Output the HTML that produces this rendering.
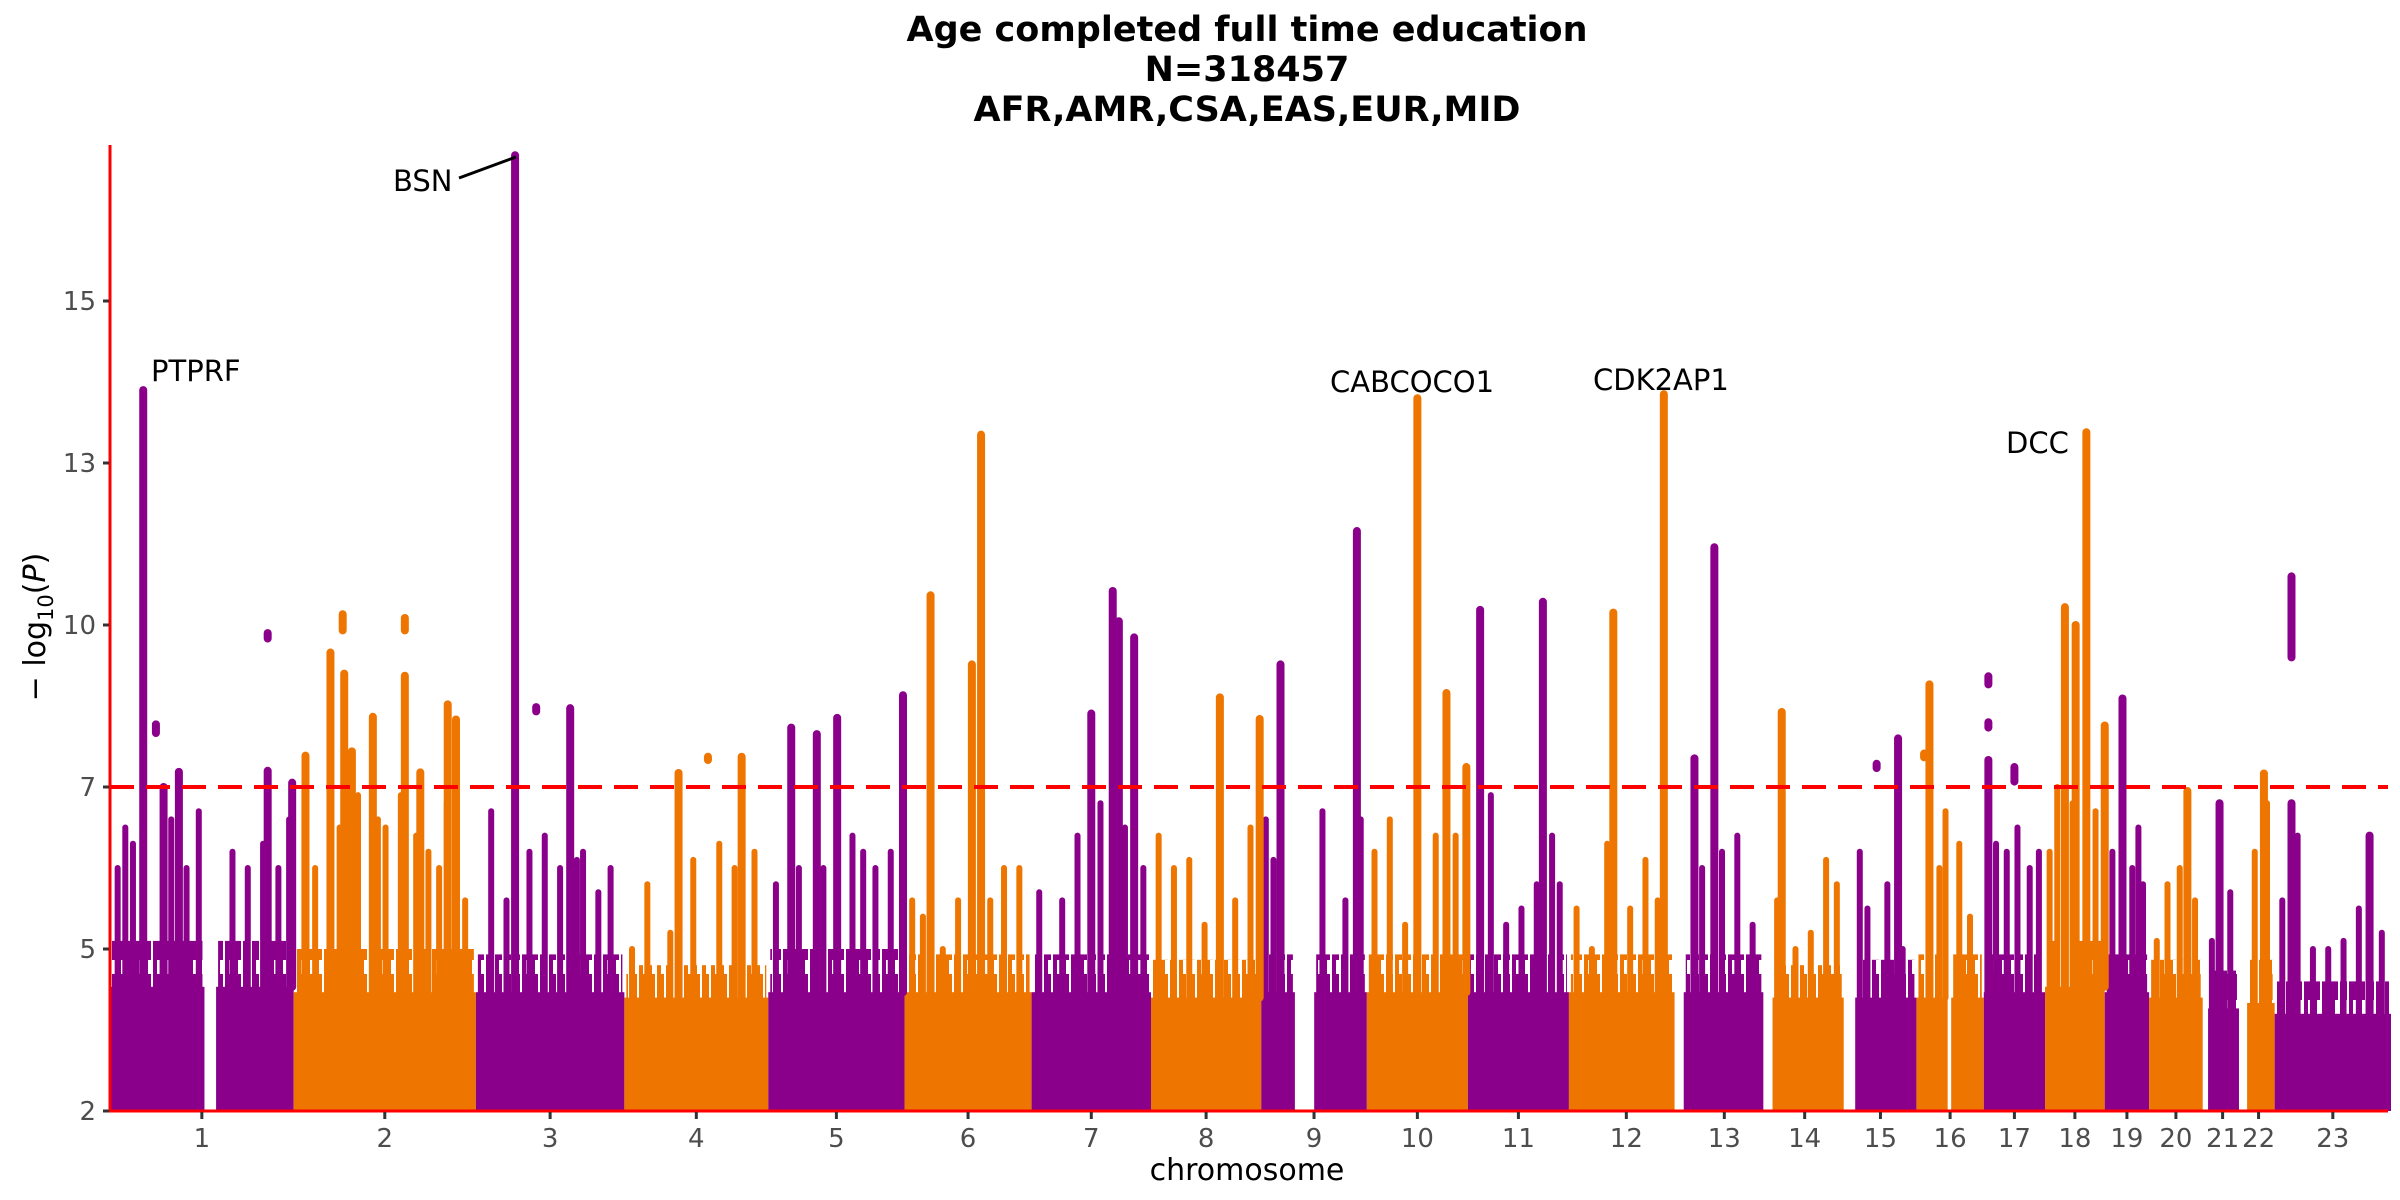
<!DOCTYPE html>
<html><head><meta charset="utf-8"><style>
html,body{margin:0;padding:0;background:#fff;}
svg{display:block;font-family:"DejaVu Sans","Liberation Sans",sans-serif;}
</style></head><body>
<svg id="chart" width="2400" height="1200" viewBox="0 0 2400 1200">
<defs>
<pattern id="texP" width="9" height="40" patternUnits="userSpaceOnUse"><rect x="0" y="0" width="4" height="40" fill="#8B008B"/><rect x="4" y="14" width="3" height="26" fill="#8B008B"/></pattern>
<pattern id="texO" width="9" height="40" patternUnits="userSpaceOnUse"><rect x="0" y="0" width="4" height="40" fill="#EE7600"/><rect x="4" y="14" width="3" height="26" fill="#EE7600"/></pattern>
</defs>
<g font-weight="bold" font-size="35" text-anchor="middle" fill="#000">
<text x="1247" y="41">Age completed full time education</text>
<text x="1247" y="81">N=318457</text>
<text x="1247" y="121">AFR,AMR,CSA,EAS,EUR,MID</text>
</g>
<g id="bands"></g>
<g id="minor"></g>
<g id="major"></g>
<g id="axes"></g>
<text x="1247" y="1180" font-size="30" text-anchor="middle" fill="#000">chromosome</text>
<text transform="translate(45,627) rotate(-90)" font-size="30" text-anchor="middle" fill="#000">− log<tspan font-size="21" dy="8">10</tspan><tspan dy="-8">(</tspan><tspan font-style="italic">P</tspan>)</text>
<g font-size="29" fill="#000">
<text x="151" y="381">PTPRF</text>
<text x="393" y="191">BSN</text>
<line x1="459" y1="178" x2="516" y2="157" stroke="#000" stroke-width="3"/>
<text x="1330" y="392">CABCOCO1</text>
<text x="1593" y="390">CDK2AP1</text>
<text x="2006" y="453">DCC</text>
</g>
</svg>
<script>
const chrNames=["1","2","3","4","5","6","7","8","9","10","11","12","13","14","15","16","17","18","19","20","21","22","23"];
const chrLengths=[120,119,97,94,89,83,78,72,69,66,66,75,53,52,47,44,40,39,29,35,26,21,76];
const bandStart=[0,0,0,0,0,0,0,0,0,0,0,0,0,5,7,0,0,0,0,0,3.5,3,0];
const bandEnd=[120,119,97,94,89,83,78,72,69,66,66,69,52,51.5,47,44,40,39,29,35,23.7,21,76];
const bandTop=[4.3,4.2,4.2,4.1,4.2,4.2,4.2,4.1,4.2,4.2,4.2,4.2,4.2,4.1,4.1,4.1,4.2,4.3,4.2,4.1,3.9,4.0,3.8];
const fringeTop=[5.1,5.0,4.9,4.7,5.0,4.9,4.9,4.8,4.9,4.9,4.9,4.9,4.9,4.7,4.8,4.9,4.9,5.1,4.9,4.8,4.6,4.8,4.4];
const gaps=[[1,61.7,69.3],[9,22,34.6],[16,20.4,22.7]];
const yTicks=[2,5,7,10,13,15];
const suggestiveLine=7;
const majorLoci=[
[1,21.7,13.9],[1,30,8.16,8.0],[1,35,7.0],[1,45,7.28],[1,103,9.85,9.75],[1,103,7.3],[1,119,7.08],
[2,7.7,7.58],[2,24,9.49],[2,32,10.2,9.9],[2,33,9.1],[2,38,7.66],[2,51.7,8.3],[2,72.6,10.13,9.9],[2,72.6,9.06],[2,82.7,7.27],[2,100.6,8.53],[2,106,8.25],
[3,25.6,16.8],[3,39.4,8.48,8.4],[3,61.6,8.46],
[4,35.4,7.26],[4,54.6,7.56,7.5],[4,76.6,7.56],
[5,15,8.1],[5,31.7,7.98],[5,45,8.28],[5,88,8.7],
[6,17,10.55],[6,44,9.27],[6,50,13.35],
[7,39,8.36],[7,53,10.63],[7,57,10.07],[7,67,9.77],
[8,45,8.66],[8,71,8.26],
[9,12.6,9.27],[9,62.5,11.74],
[10,33,13.8],[10,52,8.74],[10,65,7.37],
[11,8,10.28],[11,49,10.43],
[12,29,10.23],[12,62,13.85],
[13,7,7.53],[13,20,11.44],
[14,11,8.39],
[15,21,7.43,7.35],[15,35,7.9],
[16,5,7.62,7.55],[16,8.5,8.9],
[17,3,9.05,8.9],[17,3,8.2,8.1],[17,3,7.5],[17,20,7.37,7.1],
[18,13,10.33],[18,20,10.0],[18,27,13.38],[18,39,8.14],
[19,11.6,8.64],
[20,25,6.95],
[21,11,6.8],
[22,14,7.25],
[23,11,10.9,9.4],[23,11,6.8],[23,62,6.4]
];
const minorLoci=[
[1,5,6.0],[1,10,6.5],[1,15,6.3],[1,40,6.6],[1,50,6.0],[1,58,6.7],[1,80,6.2],[1,90,6.0],[1,100,6.3],[1,110,6.0],[1,117,6.6],
[2,7,7.0],[2,14,6.0],[2,30,6.5],[2,42,6.9],[2,55,6.6],[2,60,6.5],[2,70,6.9],[2,80,6.4],[2,88,6.2],[2,95,6.0],[2,100,6.8],[2,112,5.6],
[3,10,6.7],[3,20,5.6],[3,35,6.2],[3,45,6.4],[3,55,6.0],[3,66,6.1],[3,70,6.2],[3,80,5.7],[3,88,6.0],
[4,5,5.0],[4,15,5.8],[4,30,5.2],[4,45,6.1],[4,62,6.3],[4,72,6.0],[4,85,6.2],
[5,5,5.8],[5,20,6.0],[5,36,6.0],[5,55,6.4],[5,62,6.2],[5,70,6.0],[5,80,6.2],
[6,5,5.6],[6,12,5.4],[6,25,5.0],[6,35,5.6],[6,56,5.6],[6,65,6.0],[6,75,6.0],
[7,5,5.7],[7,20,5.6],[7,30,6.4],[7,45,6.8],[7,61,6.5],[7,73,6.0],
[8,5,6.4],[8,15,6.0],[8,25,6.1],[8,35,5.3],[8,55,5.6],[8,65,6.5],
[9,3,6.6],[9,8,6.1],[9,40,6.7],[9,55,5.6],[9,65,6.6],
[10,5,6.2],[10,15,6.6],[10,25,5.3],[10,45,6.4],[10,58,6.4],
[11,15,6.9],[11,25,5.3],[11,35,5.5],[11,45,5.8],[11,55,6.4],[11,60,5.8],
[12,5,5.5],[12,15,5.0],[12,25,6.3],[12,40,5.5],[12,50,6.1],[12,58,5.6],
[13,12,6.0],[13,25,6.2],[13,35,6.4],[13,45,5.3],
[14,8,5.6],[14,20,5.0],[14,30,5.2],[14,40,6.1],[14,47,5.8],
[15,10,6.2],[15,15,5.5],[15,28,5.8],[15,38,5.0],
[16,15,6.0],[16,19,6.7],[16,28,6.3],[16,35,5.4],
[17,8,6.3],[17,15,6.2],[17,22,6.5],[17,30,6.0],[17,36,6.2],
[18,3,6.2],[18,8,7.0],[18,18,6.8],[18,33,6.7],
[19,5,6.2],[19,18,6.0],[19,22,6.5],[19,25,5.8],
[20,5,5.1],[20,12,5.8],[20,20,6.0],[20,30,5.6],
[21,6,5.1],[21,18,5.7],
[22,8,6.2],[22,16,6.8],
[23,5,5.6],[23,15,6.4],[23,25,5.0],[23,35,5.0],[23,45,5.1],[23,55,5.5],[23,62,6.4],[23,70,5.2]
];

const NS="http://www.w3.org/2000/svg";
const colors=["#8B008B","#EE7600"];
const patterns=["url(#texP)","url(#texO)"];
const X0=110, X1=2391, Y0=1111, TICKSTEP=162;
const totalLen=chrLengths.reduce((a,b)=>a+b,0);
const chrOffset=[];let acc=0;for(const l of chrLengths){chrOffset.push(acc);acc+=l;}
function xPos(ci,pos){return X0+(chrOffset[ci]+pos)/totalLen*(X1-X0);}
function yPos(v){
  for(let i=0;i<yTicks.length-1;i++){
    if(v<=yTicks[i+1]||i===yTicks.length-2){
      const t=(v-yTicks[i])/(yTicks[i+1]-yTicks[i]);
      return Y0-TICKSTEP*(i+t);
    }
  }
}
function mk(tag,attrs,parent){const e=document.createElementNS(NS,tag);for(const k in attrs)e.setAttribute(k,attrs[k]);parent.appendChild(e);return e;}

const bands=document.getElementById('bands');
chrLengths.forEach((len,ci)=>{
  let segs=[[bandStart[ci],bandEnd[ci]]];
  gaps.filter(g=>g[0]===ci+1).forEach(g=>{
    const ns=[];segs.forEach(s=>{if(g[1]>s[0]&&g[2]<s[1]){ns.push([s[0],g[1]]);ns.push([g[2],s[1]]);}else ns.push(s);});segs=ns;
  });
  segs.forEach(s=>{
    const xa=xPos(ci,s[0]), xb=xPos(ci,s[1]);
    const f=mk('rect',{x:xa+2,y:yPos(fringeTop[ci]),width:Math.max(0,xb-xa-4),height:yPos(bandTop[ci])-yPos(fringeTop[ci])+2,fill:patterns[ci%2]},bands);
    
    
    const r=mk('rect',{x:xa,y:yPos(bandTop[ci]),width:xb-xa,height:Y0-yPos(bandTop[ci]),fill:colors[ci%2]},bands);
    
    
  });
});
const minor=document.getElementById('minor');
minorLoci.forEach(d=>{
  const ci=d[0]-1,x=xPos(ci,d[1]);
  const l=mk('line',{x1:x,x2:x,y1:yPos(bandTop[ci]),y2:yPos(d[2]),stroke:colors[ci%2],'stroke-width':6,'stroke-linecap':'round'},minor);
  
  
});
const major=document.getElementById('major');
majorLoci.forEach(d=>{
  const ci=d[0]-1,x=xPos(ci,d[1]);
  const bot=d.length>3?d[3]:bandTop[ci];
  const l=mk('line',{x1:x,x2:x,y1:yPos(bot),y2:yPos(d[2]),stroke:colors[ci%2],'stroke-width':8,'stroke-linecap':'round'},major);
  
  
});
const axes=document.getElementById('axes');
const sl=mk('line',{x1:X0,x2:2388,y1:yPos(suggestiveLine),y2:yPos(suggestiveLine),stroke:'#ff0000','stroke-width':4,'stroke-dasharray':'24 12'},axes);


const ya=mk('line',{x1:X0,x2:X0,y1:145,y2:Y0+1.5,stroke:'#ff0000','stroke-width':3},axes);


const xa=mk('line',{x1:X0-1.5,x2:2388,y1:Y0,y2:Y0,stroke:'#ff0000','stroke-width':3},axes);


yTicks.forEach(v=>{
  const y=yPos(v);
  const t=mk('line',{x1:X0-7,x2:X0-1,y1:y,y2:y,stroke:'#333','stroke-width':3},axes);
  
  
  const tx=mk('text',{x:X0-14,y:y+9,'font-size':26,'text-anchor':'end',fill:'#4d4d4d'},axes);
  tx.textContent=v;
  
  
});
chrNames.forEach((n,ci)=>{
  const x=xPos(ci,chrLengths[ci]/2);
  const t=mk('line',{x1:x,x2:x,y1:Y0+1,y2:Y0+8,stroke:'#333','stroke-width':3},axes);
  
  
  const tx=mk('text',{x:x,y:Y0+36,'font-size':26,'text-anchor':'middle',fill:'#4d4d4d'},axes);
  tx.textContent=n;
  
  
});
</script>
</body></html>
